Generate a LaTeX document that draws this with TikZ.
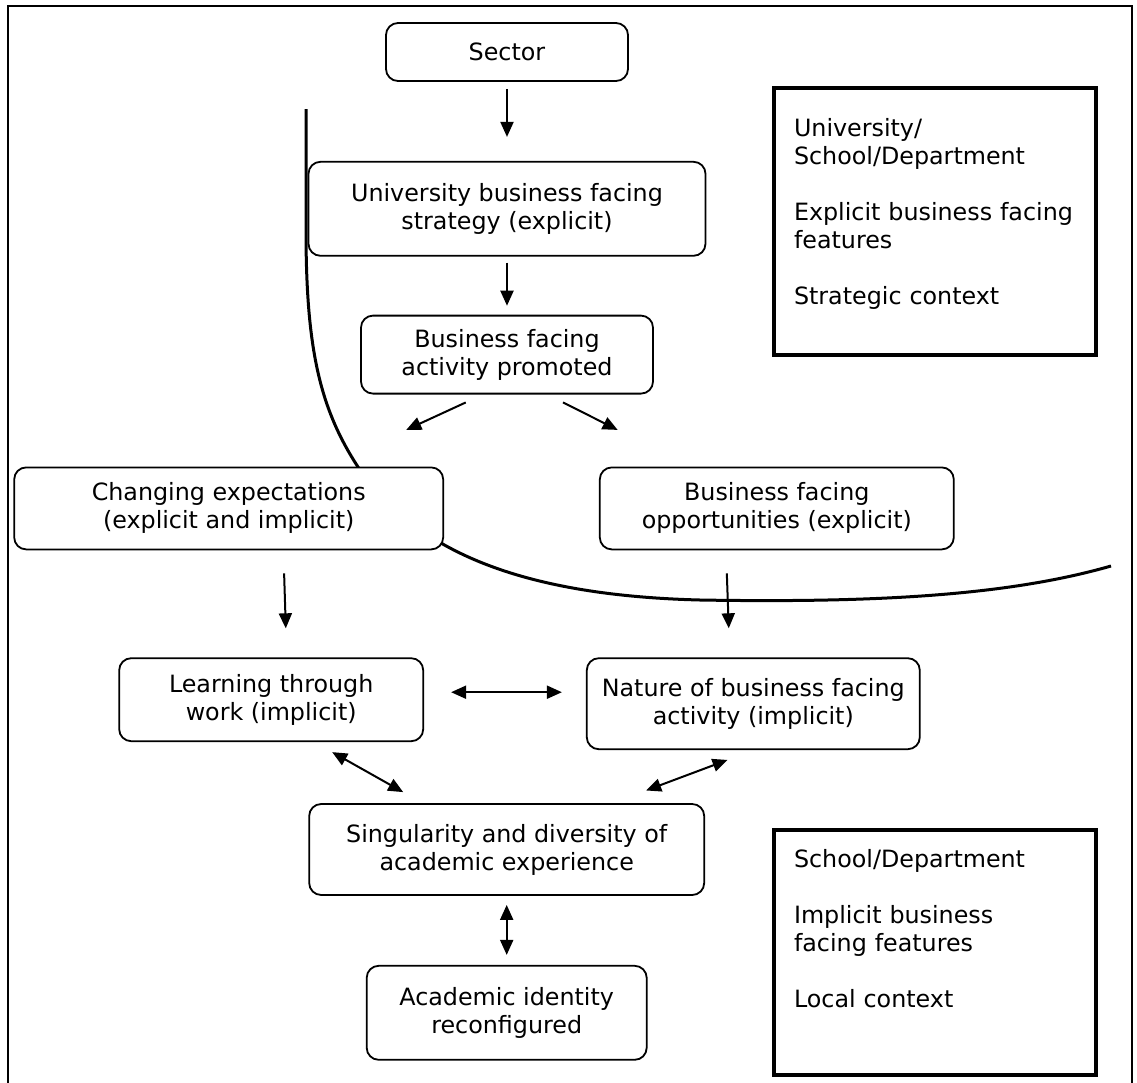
\documentclass[tikz,border=0pt]{standalone}
\usepackage{fontspec}
\setmainfont{DejaVu Sans}
\usetikzlibrary{positioning,arrows.meta}
\tikzset{
stage/.style={
    draw,
    rounded corners=6pt,
    line width=0.9pt,
    fill=white,
    align=center,
    font=\fontsize{11.9}{14}\selectfont
},
level/.style={
    draw,
    line width=2pt,
    anchor=north west,
    inner xsep=10pt,
    inner ysep=0pt,
    text width=141pt,
    align=left,
    font=\fontsize{11.9}{14}\selectfont
},
leads/.style={
    ->,
    line width=1pt
},
links/.style={
    <->,
    line width=1pt
},
divide/.style={
    line width=1.5pt
}}

\begin{document}
\begin{tikzpicture}[x=0.5pt, y=-0.5pt, >={Triangle[length=7.5pt,width=6.5pt]}]
\useasboundingbox (0,0) rectangle (1137,1083);
% open frame
\draw[line width=1.3pt] (8,1090) -- (8,6) -- (1132,6) -- (1132,1090);
% boundary between the two contexts
\draw[divide] (306,109) -- (306,230) .. controls (306,350) and (320,410) .. (360,470)
              .. controls (410,540) and (500,595) .. (700,600)
              .. controls (880,603) and (1010,595) .. (1111,566);

\node    (sector) [stage, minimum width=121pt, minimum height=29pt] at (507,52) {Sector};
\node    (univ)   [stage, minimum width=198.5pt, minimum height=47pt, below=39.5pt of sector] {University business facing\\strategy (explicit)};
\node    (prom)   [stage, minimum width=146pt, minimum height=39pt, below=29pt of univ] {Business facing\\activity promoted};
\node    (chg)    [stage, minimum width=214.5pt, minimum height=41pt, below left=36pt and -42pt of prom] {Changing expectations\\(explicit and implicit)};
\node    (opp)    [stage, minimum width=177pt, minimum height=41pt, below right=36pt and -27.5pt of prom] {Business facing\\opportunities (explicit)};
\node    (ltw)    [stage, minimum width=152pt, minimum height=41.5pt, below=53.5pt of chg, xshift=21.25pt] {Learning through\\work (implicit)};
\node    (nat)    [stage, minimum width=166.5pt, minimum height=45.5pt, below=53.5pt of opp, xshift=-11.75pt] {Nature of business facing\\activity (implicit)};
\node    (sing)   [stage, minimum width=197.5pt, minimum height=45.5pt, below=30.5pt of ltw, xshift=117.75pt] {Singularity and diversity of\\academic experience};
\node    (ident)  [stage, minimum width=140pt, minimum height=47pt, below=34.5pt of sing] {Academic identity\\reconfigured};

\node    (strat)  [level, text height=24pt, text depth=109.5pt] at (772,86) {University/\\School/Department\\[14pt]Explicit business facing\\features\\[14pt]Strategic context};
\node    (local)  [level, text height=18.8pt, text depth=103.7pt] at (772,828) {School/Department\\[14pt]Implicit business\\facing features\\[14pt]Local context};

\draw    [leads, shorten <=3.5pt, shorten >=12pt]   (sector) -- (univ);
\draw    [leads, shorten <=3pt, shorten >=4.5pt]    (univ) -- (prom);
\draw    [leads, shorten <=9.5pt, shorten >=43.8pt] ([xshift=-12pt]prom.south) -- ([xshift=49pt]chg.north);
\draw    [leads, shorten <=8.8pt, shorten >=40.7pt] ([xshift=20.15pt]prom.south) -- ([xshift=-43.2pt]opp.north);
\draw    [leads, shorten <=11.5pt, shorten >=14.5pt] ([xshift=27.35pt]chg.south) -- ([xshift=7.75pt]ltw.north);
\draw    [leads, shorten <=11.5pt, shorten >=14.5pt] ([xshift=-25.4pt]opp.south) -- ([xshift=-11.75pt]nat.north);

\draw    [links, shorten <=13.5pt, shorten >=12pt]  ([yshift=3.75pt]ltw.east) -- ([yshift=5.75pt]nat.west);
\draw    [links, shorten <=10.2pt, shorten >=11.2pt] ([xshift=21.6pt]ltw.south) -- ([xshift=-42pt]sing.north);
\draw    [links, shorten <=14pt, shorten >=18pt]    ([xshift=0.25pt]nat.south) -- ([xshift=52.85pt]sing.north);
\draw    [links, shorten <=4.5pt, shorten >=5pt]    (sing) -- (ident);
\end{tikzpicture}
\end{document}
